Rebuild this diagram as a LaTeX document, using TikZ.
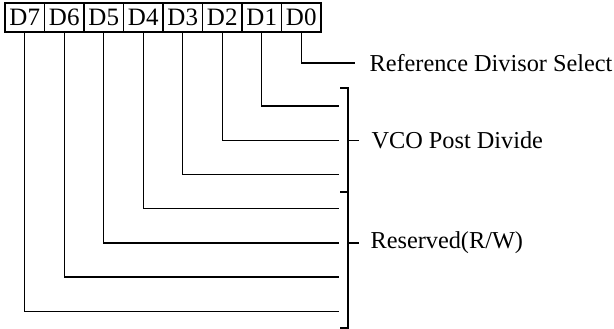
\documentclass[tikz,border=0pt]{standalone}
\usepackage{fontspec}
\setmainfont{Liberation Serif}
\begin{document}
\begin{tikzpicture}[x=1pt,y=-1pt,line width=1.1pt,
  bitbox/.style={draw,minimum width=39.5pt,minimum height=29pt,inner sep=0pt,
    font=\fontsize{25}{26}\selectfont},
  lbl/.style={anchor=west,inner sep=0pt,font=\fontsize{24.3}{26}\selectfont}]
\useasboundingbox (0,0) rectangle (614,329);
% bit boxes
\foreach \i/\n in {0/7,1/6,2/5,3/4,4/3,5/2,6/1,7/0}{
  \node[bitbox] (b\n) at ({24.75+39.5*\i},17.5) {D\n};
}
% line ends
\coordinate (e0) at (355,63);
\coordinate (e1) at (339,106);
\coordinate (e2) at (339,140.3);
\coordinate (e3) at (339,174.5);
\coordinate (e4) at (339,208.7);
\coordinate (e5) at (339,243);
\coordinate (e6) at (339,277);
\coordinate (e7) at (339,311.4);
\foreach \n in {0,...,7}{ \draw (b\n.south) |- (e\n); }
% bracket
\coordinate (bt) at (348,88);
\coordinate (bm) at (348,192);
\coordinate (bb) at (348,328);
\coordinate (t1) at (348,140.3);
\coordinate (t2) at (348,243);
\draw ([xshift=-8pt]bt) -- (bt) -- (bb) -- ([xshift=-8pt]bb);
\draw ([xshift=-8pt]bm) -- (bm);
\draw (t1) -- ++(11,0);
\draw (t2) -- ++(11,0);
% labels
\node[lbl] (l0) at (369,63) {Reference Divisor Select};
\node[lbl] (l1) at (371,140.3) {VCO Post Divide};
\node[lbl] (l2) at (370,243) {Reserved(R/W)};
\end{tikzpicture}
\end{document}
